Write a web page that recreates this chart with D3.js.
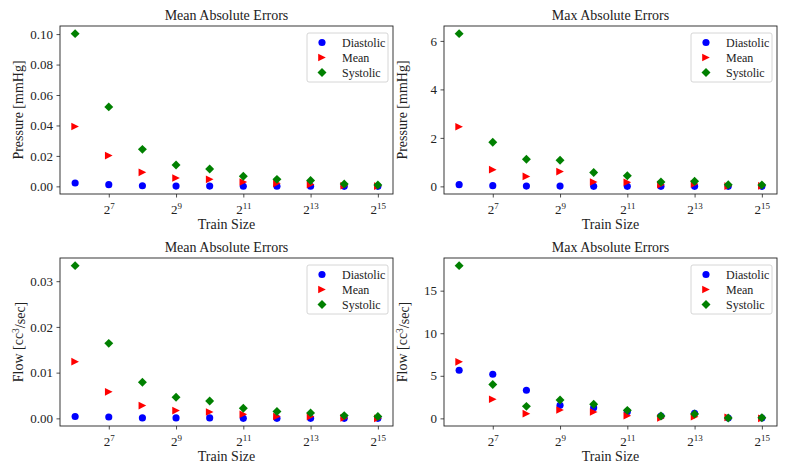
<!DOCTYPE html>
<html>
<head>
<meta charset="utf-8">
<script src="https://cdn.jsdelivr.net/npm/d3@7"></script>
<style>
  body { margin: 0; background: #fff; }
</style>
</head>
<body>
<svg id="svg"></svg>
<script>
// training set sizes (x axis, log base 2)
const trainSizes = [64, 128, 256, 512, 1024, 2048, 4096, 8192, 16384, 32768];
const xTickValues = [128, 512, 2048, 8192, 32768];
const seriesNames = ['Diastolic', 'Mean', 'Systolic'];

// pressure, mean absolute errors
const pressureMaeDiastolic = [0.0022, 0.0011, 0.0004, 0.0002, 0.0002, 0.0001, 0.0001, 0.0001, 0.0000, 0.0000];
const pressureMaeMean = [0.0393, 0.0202, 0.0092, 0.0055, 0.0046, 0.0029, 0.0020, 0.0013, 0.0004, 0.0002];
const pressureMaeSystolic = [0.1003, 0.0522, 0.0243, 0.0140, 0.0114, 0.0066, 0.0046, 0.0039, 0.0015, 0.0009];
const pressureMaeTicks = [0, 0.02, 0.04, 0.06, 0.08, 0.10];

// pressure, max absolute errors
const pressureMaxDiastolic = [0.07, 0.03, 0.01, 0.01, 0.00, 0.00, 0.00, 0.00, 0.00, 0.00];
const pressureMaxMean = [2.46, 0.69, 0.41, 0.61, 0.18, 0.17, 0.07, 0.10, 0.01, 0.02];
const pressureMaxSystolic = [6.30, 1.82, 1.12, 1.08, 0.57, 0.44, 0.18, 0.21, 0.07, 0.06];
const pressureMaxTicks = [0, 2, 4, 6];

// flow, mean absolute errors
const flowMaeDiastolic = [0.0004, 0.0003, 0.0001, 0.0001, 0.0001, 0.0000, 0.0000, 0.0000, 0.0000, 0.0000];
const flowMaeMean = [0.0124, 0.0058, 0.0028, 0.0017, 0.0014, 0.0009, 0.0004, 0.0004, 0.0001, 0.0000];
const flowMaeSystolic = [0.0334, 0.0164, 0.0079, 0.0046, 0.0038, 0.0022, 0.0015, 0.0012, 0.0006, 0.0004];
const flowMaeTicks = [0, 0.01, 0.02, 0.03];

// flow, max absolute errors
const flowMaxDiastolic = [5.65, 5.18, 3.30, 1.53, 1.26, 0.79, 0.27, 0.59, 0.04, 0.04];
const flowMaxMean = [6.64, 2.24, 0.55, 0.98, 0.75, 0.31, 0.04, 0.20, 0.12, 0.00];
const flowMaxSystolic = [17.94, 3.97, 1.41, 2.16, 1.65, 0.94, 0.27, 0.51, 0.04, 0.08];
const flowMaxTicks = [0, 5, 10, 15];

const width = 789, height = 473;
const panelW = 333, panelH = 168;
const colors = ['blue', 'red', 'green'];
const font = '"Liberation Serif", "DejaVu Serif", serif';
const ink = '#222';

// right-pointing triangle like matplotlib '>'
const triangleRight = {
    draw(context, size) {
        let h = Math.sqrt(size) * 0.62;
        context.moveTo(h, 0);
        context.lineTo(-h, h);
        context.lineTo(-h, -h);
        context.closePath();
    }
};
const symbols = [
    d3.symbol().type(d3.symbolCircle).size(40),
    d3.symbol().type(triangleRight).size(38),
    d3.symbol().type(d3.symbolSquare).size(40)
];
const rotations = [0, 0, 45];

const panels = [
    {x: 60, y: 26, title: 'Mean Absolute Errors', ylabel: ['Pressure [mmHg]'],
     series: [pressureMaeDiastolic, pressureMaeMean, pressureMaeSystolic], ticks: pressureMaeTicks, fmt: '.2f'},
    {x: 444, y: 26, title: 'Max Absolute Errors', ylabel: ['Pressure [mmHg]'],
     series: [pressureMaxDiastolic, pressureMaxMean, pressureMaxSystolic], ticks: pressureMaxTicks, fmt: 'd'},
    {x: 60, y: 258, title: 'Mean Absolute Errors', ylabel: ['Flow [cc', '3', '/sec]'],
     series: [flowMaeDiastolic, flowMaeMean, flowMaeSystolic], ticks: flowMaeTicks, fmt: '.2f'},
    {x: 444, y: 258, title: 'Max Absolute Errors', ylabel: ['Flow [cc', '3', '/sec]'],
     series: [flowMaxDiastolic, flowMaxMean, flowMaxSystolic], ticks: flowMaxTicks, fmt: 'd'}
];

const svg = d3.select('#svg').attr('width', width).attr('height', height)
    .style('font-family', font);

function label(sel, size) {
    return sel.style('font-family', font).style('font-size', size).style('fill', ink);
}

function drawPanel(p) {
    const g = svg.append('g').attr('transform', `translate(${p.x},${p.y})`);

    // 5% margins, like matplotlib
    const lx0 = Math.log2(trainSizes[0]), lx1 = Math.log2(trainSizes[trainSizes.length - 1]);
    const xPad = 0.05 * (lx1 - lx0);
    const x = d3.scaleLog().base(2)
        .domain([Math.pow(2, lx0 - xPad), Math.pow(2, lx1 + xPad)])
        .range([0, panelW]);
    const [lo, hi] = d3.extent(p.series.flat());
    const yPad = 0.05 * (hi - lo);
    const y = d3.scaleLinear().domain([lo - yPad, hi + yPad]).range([panelH, 0]);

    const xAxis = g.append('g').attr('transform', `translate(0,${panelH})`)
        .call(d3.axisBottom(x).tickValues(xTickValues).tickSize(3.5).tickPadding(3).tickFormat(() => ''));
    xAxis.selectAll('.tick text').each(function(d) {
        const t = d3.select(this);
        t.append('tspan').text('2');
        t.append('tspan').attr('dy', '-0.45em').style('font-size', '9px').text(Math.round(Math.log2(d)));
    });
    label(xAxis.selectAll('.tick text'), '13px').attr('dy', '1.0em');

    const yAxis = g.append('g')
        .call(d3.axisLeft(y).tickValues(p.ticks).tickSize(3.5).tickPadding(3.5).tickFormat(d3.format(p.fmt)));
    label(yAxis.selectAll('.tick text'), '13px');

    [xAxis, yAxis].forEach(a => {
        a.select('.domain').remove();
        a.selectAll('.tick line').attr('stroke', ink).attr('stroke-width', 0.8);
    });

    // frame
    g.append('rect').attr('width', panelW).attr('height', panelH)
        .attr('fill', 'none').attr('stroke', ink).attr('stroke-width', 0.9);

    // points
    p.series.forEach((vals, si) => {
        g.append('g').selectAll('path')
            .data(vals)
            .join('path')
            .attr('d', symbols[si])
            .attr('transform', (d, i) => `translate(${x(trainSizes[i])},${y(d)}) rotate(${rotations[si]})`)
            .attr('fill', colors[si]);
    });

    // titles and labels
    label(g.append('text'), '14px').attr('x', panelW / 2).attr('y', -6)
        .attr('text-anchor', 'middle').text(p.title);
    label(g.append('text'), '14px').attr('x', panelW / 2).attr('y', panelH + 35)
        .attr('text-anchor', 'middle').text('Train Size');
    const yl = label(g.append('text'), '14px')
        .attr('transform', `translate(-37,${panelH / 2}) rotate(-90)`)
        .attr('text-anchor', 'middle');
    yl.append('tspan').text(p.ylabel[0]);
    if (p.ylabel.length > 1) {
        yl.append('tspan').attr('dy', '-0.45em').style('font-size', '9.5px').text(p.ylabel[1]);
        yl.append('tspan').attr('dy', '0.45em').text(p.ylabel[2]);
    }

    // legend
    const lg = g.append('g').attr('transform', `translate(${panelW - 86},7)`);
    lg.append('rect').attr('width', 81).attr('height', 49).attr('rx', 2)
        .attr('fill', 'white').attr('fill-opacity', 0.8).attr('stroke', '#ccc').attr('stroke-width', 0.8);
    seriesNames.forEach((name, si) => {
        const cy = 9.5 + si * 15;
        lg.append('path').attr('d', symbols[si])
            .attr('transform', `translate(15,${cy}) rotate(${rotations[si]})`)
            .attr('fill', colors[si]);
        label(lg.append('text'), '12px').attr('x', 35).attr('y', cy + 4).text(name);
    });
}

panels.forEach(drawPanel);
</script>
</body>
</html>
